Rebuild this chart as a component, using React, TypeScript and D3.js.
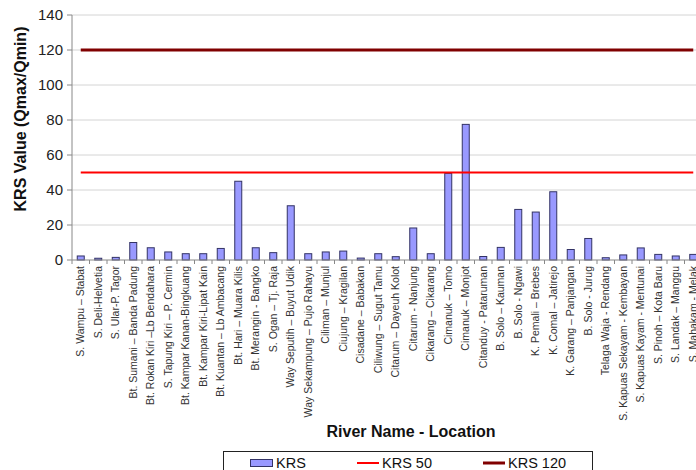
import React from "react";
import * as d3 from "d3";

const categories = [
  "S. Wampu – Stabat",
  "S. Deli-Helvetia",
  "S. Ular-P. Tagor",
  "Bt. Sumani – Banda Padung",
  "Bt. Rokan Kiri –Lb Bendahara",
  "S. Tapung Kiri – P. Cermin",
  "Bt. Kampar Kanan-Bingkuang",
  "Bt. Kampar Kiri-Lipat Kain",
  "Bt. Kuantan – Lb Ambacang",
  "Bt. Hari – Muara Kilis",
  "Bt. Merangin - Bangko",
  "S. Ogan – Tj. Raja",
  "Way Seputih – Buyut Udik",
  "Way Sekampung – Pujo Rahayu",
  "Ciliman – Munjul",
  "Ciujung – Kragilan",
  "Cisadane – Babakan",
  "Ciliwung – Sugut Tamu",
  "Citarum – Dayeuh Kolot",
  "Citarum - Nanjung",
  "Cikarang – Cikarang",
  "Cimanuk – Tomo",
  "Cimanuk – Monjot",
  "Citanduy - Pataruman",
  "B. Solo – Kauman",
  "B. Solo - Ngawi",
  "K. Pemali – Brebes",
  "K. Comal – Jatirejo",
  "K. Garang – Panjangan",
  "B. Solo - Jurug",
  "Telaga Waja - Rendang",
  "S. Kapuas Sekayam - Kembayan",
  "S. Kapuas Kayam - Mentunai",
  "S. Pinoh – Kota Baru",
  "S. Landak – Manggu",
  "S. Mahakam - Melak",
];

const krs = [
  2.3, 1, 1.5, 10, 7, 4.6, 3.6, 3.6, 6.6, 45, 7, 4.2, 31, 3.6, 4.6, 5.1, 1.1, 3.6,
  1.9, 18.3, 3.6, 49.5, 77.5, 2, 7.2, 28.9, 27.4, 39, 6, 12.3, 1.3, 2.9, 6.9, 3.2,
  2.3, 3.2,
];

const krs50 = categories.map(() => 50);
const krs120 = categories.map(() => 120);

const yTicks = [0, 20, 40, 60, 80, 100, 120, 140];

const FONT = "Arial, 'Liberation Sans', sans-serif";

export default function App() {
  const W = 696;
  const H = 470;
  const left = 72;
  const right = 702;
  const top = 15;
  const bottom = 260;

  const x = d3
    .scaleBand<string>()
    .domain(categories)
    .range([left, right])
    .paddingInner(0.6)
    .paddingOuter(0.3);
  const step = x.step();
  const cx = (c: string) => (x(c) as number) + x.bandwidth() / 2;
  const y = d3.scaleLinear().domain([0, 140]).range([bottom, top]);

  const line = d3
    .line<number>()
    .x((_, i) => cx(categories[i]))
    .y((d) => y(d));

  const boundaries = d3.range(categories.length + 1).map((i) => left + i * step);

  return (
    <svg
      width={W}
      height={H}
      style={{ position: "absolute", left: 0, top: 0, background: "#fff" }}
      fontFamily={FONT}
    >
      <rect x={0} y={0} width={W} height={H} fill="#fff" />
      {yTicks.map((t) =>
        t === 0 ? null : (
          <line key={t} x1={left} x2={W} y1={y(t)} y2={y(t)} stroke="#d4d4d4" strokeWidth={1} />
        )
      )}
      <line x1={left} x2={left} y1={top} y2={bottom} stroke="#888" strokeWidth={1} />
      {yTicks.map((t) => (
        <g key={"yt" + t}>
          <line x1={left - 5} x2={left} y1={y(t)} y2={y(t)} stroke="#888" />
          <text x={63} y={y(t)} dy="0.36em" textAnchor="end" fontSize={15} fill="#222">
            {t}
          </text>
        </g>
      ))}
      {categories.map((c, i) => (
        <rect
          key={c}
          x={x(c)}
          y={y(krs[i])}
          width={x.bandwidth()}
          height={bottom - y(krs[i])}
          fill="#9999ff"
          stroke="#333366"
          strokeWidth={1}
        />
      ))}
      <line x1={left} x2={right} y1={bottom} y2={bottom} stroke="#888" strokeWidth={1} />
      {boundaries.map((b, i) => (
        <line key={"xb" + i} x1={b} x2={b} y1={bottom} y2={bottom + 4} stroke="#888" />
      ))}
      <path d={line(krs50) || ""} fill="none" stroke="#ff0000" strokeWidth={2} />
      <path d={line(krs120) || ""} fill="none" stroke="#800000" strokeWidth={3} />
      {categories.map((c) => (
        <text
          key={"l" + c}
          transform={`translate(${cx(c)},266) rotate(-90)`}
          textAnchor="end"
          dy="0.35em"
          fontSize={10.5}
          fill="#333"
        >
          {c}
        </text>
      ))}
      <text
        transform="translate(20,119) rotate(-90)"
        textAnchor="middle"
        dy="0.35em"
        fontSize={16}
        fontWeight="bold"
        fill="#111"
      >
        KRS Value (Qmax/Qmin)
      </text>
      <text x={411} y={431} dy="0.35em" textAnchor="middle" fontSize={16} fontWeight="bold" fill="#111">
        River Name - Location
      </text>
      <rect x={223.5} y={451.5} width={369} height={30} fill="#fff" stroke="#222" strokeWidth={1} />
      <rect x={250.5} y={459.5} width={22} height={7} fill="#9999ff" stroke="#333366" />
      <text x={276} y={463} dy="0.36em" fontSize={14.5} fill="#111">KRS</text>
      <line x1={357} x2={379} y1={463} y2={463} stroke="#ff0000" strokeWidth={2} />
      <text x={382} y={463} dy="0.36em" fontSize={14.5} fill="#111">KRS 50</text>
      <line x1={483} x2={505} y1={463} y2={463} stroke="#800000" strokeWidth={3} />
      <text x={508} y={463} dy="0.36em" fontSize={14.5} fill="#111">KRS 120</text>
    </svg>
  );
}
